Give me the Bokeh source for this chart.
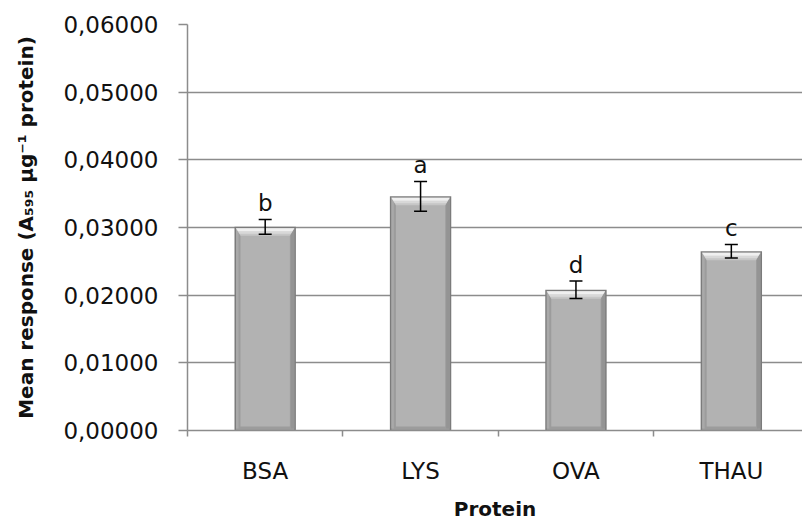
import numpy as np
from bokeh.plotting import figure
from bokeh.models import (Range1d, FixedTicker, ColumnDataSource, Whisker, TeeHead)
from bokeh.core.properties import value
from bokeh.embed import file_html
from bokeh.resources import INLINE

# Mean Bradford response per protein, with standard errors and significance groups
proteins = ["BSA", "LYS", "OVA", "THAU"]
mean_response = [0.0301, 0.0346, 0.0208, 0.0265]
std_error = [0.0011, 0.0022, 0.0013, 0.0010]
group_letters = ["b", "a", "d", "c"]

y_ticks = [0.0, 0.01, 0.02, 0.03, 0.04, 0.05, 0.06]
y_tick_labels = ["0,00000", "0,01000", "0,02000", "0,03000", "0,04000", "0,05000", "0,06000"]

FONT = "DejaVu Sans"
GRID = "#8C8C8C"

p = figure(width=802, height=530, output_backend="svg", toolbar_location=None,
           x_range=Range1d(-0.5, 3.458), y_range=Range1d(0, 0.06),
           min_border_left=187, min_border_right=0, min_border_top=24,
           min_border_bottom=100)
p.outline_line_color = None
p.background_fill_color = "white"
p.border_fill_color = "white"

xs = np.arange(len(proteins), dtype=float)
v = np.array(mean_response)
err = np.array(std_error)

# pixel sizes in data units, used for the bevel styling of the bars
px = 3.958 / 615.0
py = 0.06 / 406.0
half = 0.395 / 2

# bevelled bars: dark rim, side shading, flat face, light top bevel
p.quad(left=xs - half, right=xs + half, bottom=0, top=v,
       fill_color="#7B7B7B", line_color=None)
p.quad(left=xs - half + 1.5 * px, right=xs + half - 1.5 * px, bottom=0, top=v - 1.5 * py,
       fill_color="#9C9C9C", line_color=None)
p.quad(left=xs - half + 1.5 * px, right=xs - half + 4 * px, bottom=2 * py, top=v - 1.5 * py,
       fill_color="#A9A9A9", line_color=None)
p.quad(left=xs + half - 5 * px, right=xs + half - 1.5 * px, bottom=2 * py, top=v - 1.5 * py,
       fill_color="#949494", line_color=None)
p.quad(left=xs - half + 6 * px, right=xs + half - 6 * px, bottom=4 * py, top=v - 8 * py,
       fill_color="#B2B2B2", line_color=None)


def trapezoid(y_top, y_bot, inset_top, inset_bot):
    xs_list, ys_list = [], []
    for x, t in zip(xs, v):
        l, r = x - half, x + half
        xs_list.append([l + inset_top * px, r - inset_top * px, r - inset_bot * px, l + inset_bot * px])
        ys_list.append([t - y_top * py, t - y_top * py, t - y_bot * py, t - y_bot * py])
    return xs_list, ys_list


bx, by = trapezoid(1.5, 9, 1.5, 6)
p.patches(bx, by, fill_color="#C6C6C6", line_color=None)
bx, by = trapezoid(4.5, 7, 3.5, 5)
p.patches(bx, by, fill_color="#D8D8D8", line_color=None)
bx, by = trapezoid(1.5, 4.5, 1.5, 3.5)
p.patches(bx, by, fill_color="#F0F0F0", line_color=None)

# error bars
src = ColumnDataSource(dict(x=xs, upper=v + err, lower=v - err))
whisk = Whisker(source=src, base="x", upper="upper", lower="lower",
                line_color="black", line_width=1.5, level="overlay",
                upper_head=TeeHead(size=13, line_color="black", line_width=1.5),
                lower_head=TeeHead(size=13, line_color="black", line_width=1.5))
p.add_layout(whisk)

# significance letters a few pixels above the error bars
p.text(x=xs, y=v + err + 3 * py, text=group_letters, text_align="center",
       text_baseline="bottom",
       text_font=value(FONT), text_font_size="23px", text_color="#111111")

# y axis
p.yaxis.ticker = FixedTicker(ticks=y_ticks)
p.yaxis.major_label_overrides = dict(zip(y_ticks, y_tick_labels))
p.yaxis.axis_label = "Mean response (A\u2085\u2089\u2085 \u00b5g\u207b\u00b9 protein)"
p.yaxis.axis_label_text_font = FONT
p.yaxis.axis_label_text_font_style = "bold"
p.yaxis.axis_label_text_font_size = "20px"
p.yaxis.axis_label_text_color = "#111111"
p.yaxis.axis_label_standoff = 22
p.yaxis.major_label_text_font = FONT
p.yaxis.major_label_text_font_size = "23px"
p.yaxis.major_label_text_color = "#111111"
p.yaxis.major_label_standoff = 20
p.yaxis.axis_line_color = GRID
p.yaxis.axis_line_width = 1.5
p.yaxis.major_tick_line_color = GRID
p.yaxis.major_tick_line_width = 1.5
p.yaxis.major_tick_out = 9
p.yaxis.major_tick_in = 0
p.yaxis.minor_tick_line_color = None

# x axis: category names at bar centres, tick marks between categories
p.xaxis.ticker = FixedTicker(ticks=list(xs), minor_ticks=[-0.5, 0.5, 1.5, 2.5, 3.5])
p.xaxis.major_label_overrides = {float(i): name for i, name in enumerate(proteins)}
p.xaxis.axis_label = "Protein"
p.xaxis.axis_label_text_font = FONT
p.xaxis.axis_label_text_font_style = "bold"
p.xaxis.axis_label_text_font_size = "20px"
p.xaxis.axis_label_text_color = "#111111"
p.xaxis.axis_label_standoff = 10
p.xaxis.major_label_text_font = FONT
p.xaxis.major_label_text_font_size = "23px"
p.xaxis.major_label_text_color = "#111111"
p.xaxis.major_label_standoff = 21
p.xaxis.axis_line_color = GRID
p.xaxis.axis_line_width = 1.5
p.xaxis.major_tick_line_color = None
p.xaxis.major_tick_out = 0
p.xaxis.major_tick_in = 0
p.xaxis.minor_tick_line_color = GRID
p.xaxis.minor_tick_line_width = 1.5
p.xaxis.minor_tick_out = 6
p.xaxis.minor_tick_in = 0

p.xgrid.grid_line_color = None
p.ygrid.ticker = FixedTicker(ticks=y_ticks)
p.ygrid.grid_line_color = GRID
p.ygrid.grid_line_width = 1.5

open("out.html", "w").write(file_html(p, INLINE))
